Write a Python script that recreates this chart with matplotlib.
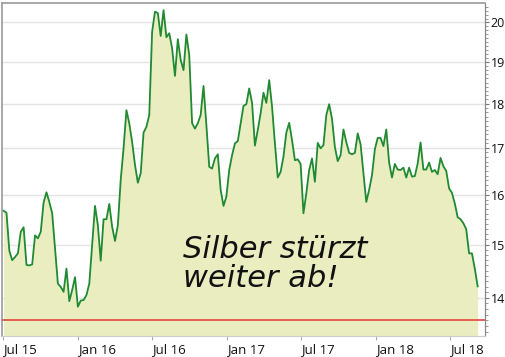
import matplotlib
matplotlib.use("Agg")
import matplotlib.pyplot as plt
import matplotlib.dates as mdates
import matplotlib.ticker as mticker
import pandas as pd
import numpy as np

# Weekly silver price (USD/oz), first week of Jul 2015 to early Sep 2018
start_date = "2015-07-03"
prices = [
    15.67, 15.63, 14.88, 14.70, 14.76, 14.83, 15.25, 15.34, 14.61, 14.60,
    14.62, 15.18, 15.12, 15.25, 15.84, 16.05, 15.85, 15.62, 14.93, 14.26,
    14.20, 14.11, 14.54, 13.94, 14.14, 14.38, 13.84, 13.95, 13.96, 14.05,
    14.26, 14.99, 15.77, 15.38, 14.69, 15.50, 15.50, 15.81, 15.35, 15.07,
    15.38, 16.31, 16.99, 17.85, 17.55, 17.13, 16.63, 16.25, 16.45, 17.34,
    17.47, 17.74, 19.76, 20.28, 20.24, 19.65, 20.32, 19.62, 19.72, 19.34,
    18.66, 19.57, 19.05, 18.80, 19.69, 19.17, 17.55, 17.43, 17.55, 17.74,
    18.42, 17.51, 16.59, 16.55, 16.77, 16.86, 16.10, 15.77, 15.96, 16.52,
    16.84, 17.10, 17.15, 17.55, 17.95, 17.99, 18.36, 18.02, 17.05, 17.40,
    17.78, 18.26, 18.02, 18.56, 17.93, 17.10, 16.36, 16.48, 16.81, 17.34,
    17.56, 17.17, 16.73, 16.75, 16.65, 15.62, 16.03, 16.52, 16.77, 16.27,
    17.11, 16.99, 17.06, 17.74, 17.99, 17.65, 17.02, 16.71, 16.84, 17.41,
    17.13, 16.89, 16.86, 16.89, 17.32, 17.08, 16.45, 15.85, 16.10, 16.41,
    16.97, 17.22, 17.22, 17.04, 17.41, 16.68, 16.36, 16.65, 16.53, 16.52,
    16.57, 16.36, 16.57, 16.38, 16.39, 16.66, 17.12, 16.53, 16.53, 16.68,
    16.48, 16.52, 16.43, 16.78, 16.60, 16.50, 16.13, 16.04, 15.82, 15.54,
    15.50, 15.42, 15.30, 14.83, 14.83, 14.54, 14.21,
]
support_level = 13.61
y_ticks = [14, 15, 16, 17, 18, 19, 20]
annotation_lines = ["Silber stürzt", "weiter ab!"]

dates = pd.date_range(start_date, periods=len(prices), freq="7D")

fig = plt.figure(figsize=(5.06, 3.57), dpi=100)
ax = fig.add_axes([2 / 506, 1 - 336.3 / 357, 483 / 506, 333 / 357])

ax.set_yscale("log")
ymin, ymax = 13.32, 20.5
ax.set_ylim(ymin, ymax)
ax.set_xlim(pd.Timestamp("2015-06-29"), pd.Timestamp("2018-09-25"))

ax.fill_between(dates, prices, ymin, color="#eaedc0", linewidth=0, zorder=1)
ax.plot(dates, prices, color="#1f8a32", linewidth=1.3, zorder=3)
ax.axhline(support_level, color="#e2463c", linewidth=1.2, zorder=4)

# y axis on right
ax.yaxis.tick_right()
ax.yaxis.set_major_locator(mticker.FixedLocator(y_ticks))
ax.yaxis.set_major_formatter(mticker.FixedFormatter([str(t) for t in y_ticks]))
ax.yaxis.set_minor_locator(mticker.FixedLocator(list(np.arange(13.4, 20.5, 0.1))))
ax.yaxis.set_minor_formatter(mticker.NullFormatter())
ax.tick_params(axis="y", which="major", length=3, width=0.8, color="#777777",
               labelsize=9, pad=1, labelcolor="#111111")
ax.tick_params(axis="y", which="minor", length=2, width=0.6, color="#888888")
ax.grid(axis="y", which="major", color="#e4e4e4", linewidth=1.0, zorder=0)
ax.set_axisbelow(True)

# x axis
ax.xaxis.set_major_locator(mdates.MonthLocator(bymonth=[1, 7]))
ax.xaxis.set_major_formatter(mdates.DateFormatter("%b %y"))
ax.tick_params(axis="x", which="major", length=3, width=0.8, color="#aaaaaa",
               labelsize=9.5, pad=2, labelcolor="#111111")
for lbl in ax.get_xticklabels():
    lbl.set_horizontalalignment("left")

for s in ["top", "left"]:
    ax.spines[s].set_color("#9a9a9a")
    ax.spines[s].set_linewidth(1.2)
ax.spines["bottom"].set_color("#cccccc")
ax.spines["right"].set_color("#888888")
ax.spines["right"].set_linewidth(0.9)

for lbl in ax.get_xticklabels() + ax.get_yticklabels():
    lbl.set_fontfamily("Open Sans")

ax.text(0.374, 0.235, annotation_lines[0], transform=ax.transAxes,
        fontsize=22, fontstyle="italic", fontweight="light", family="DejaVu Sans",
        color="#111111", va="baseline", ha="left", zorder=5)
ax.text(0.374, 0.149, annotation_lines[1], transform=ax.transAxes,
        fontsize=22, fontstyle="italic", fontweight="light", family="DejaVu Sans",
        color="#111111", va="baseline", ha="left", zorder=5)

fig.savefig("out.png", dpi=100)
